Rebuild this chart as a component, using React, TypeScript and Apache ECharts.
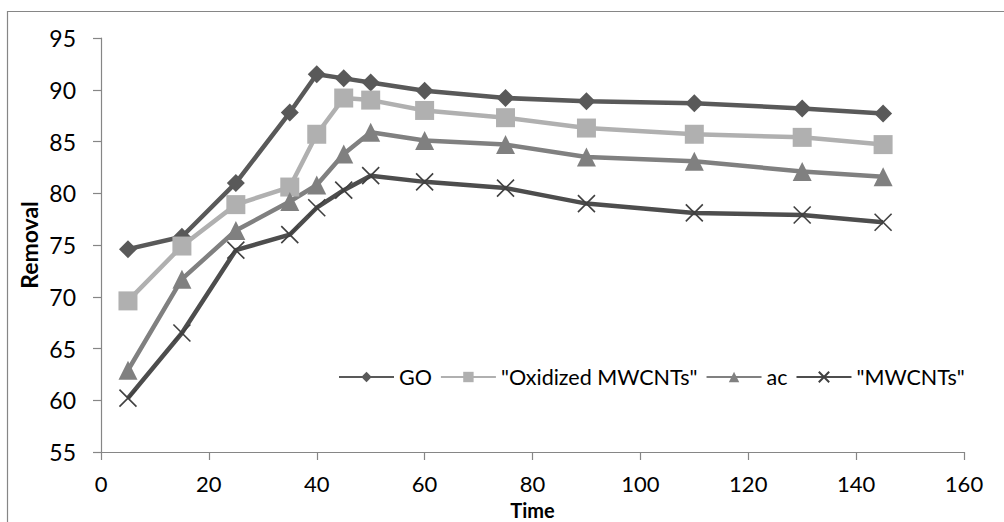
import React, { useEffect, useRef } from "react";
import * as echarts from "echarts";

const times = [5, 15, 25, 35, 40, 45, 50, 60, 75, 90, 110, 130, 145];
const goValues = [74.6, 75.8, 81.0, 87.8, 91.5, 91.1, 90.7, 89.9, 89.2, 88.9, 88.7, 88.2, 87.7];
const oxidizedValues = [69.6, 74.9, 78.9, 80.6, 85.7, 89.2, 89.0, 88.0, 87.3, 86.3, 85.7, 85.4, 84.7];
const acValues = [62.9, 71.7, 76.4, 79.2, 80.8, 83.8, 85.9, 85.1, 84.7, 83.5, 83.1, 82.1, 81.6];
const mwcntValues = [60.2, 66.5, 74.5, 76.0, 78.6, 80.3, 81.7, 81.1, 80.5, 79.0, 78.1, 77.9, 77.2];

const seriesNames = ["GO", '"Oxidized MWCNTs"', "ac", '"MWCNTs"'];
const xTicks = { min: 0, max: 160, interval: 20 };
const yTicks = { min: 55, max: 95, interval: 5 };

const FONT = "Lato, 'Open Sans', sans-serif";
const AXIS_COLOR = "#868686";

function pairs(values: number[]) {
  return times.map((t, i) => [t, values[i]]);
}

export default function App() {
  const ref = useRef<HTMLDivElement>(null);
  useEffect(() => {
    if (!ref.current) return;
    const chart = echarts.init(ref.current, null, { renderer: "svg" });
    const mk = (name: string, values: number[], color: string, symbol: string, size: number) => ({
      name,
      type: "line",
      data: pairs(values),
      symbol,
      symbolSize: size,
      lineStyle: { color, width: 4.5 },
      itemStyle: { color },
    });
    chart.setOption({
      animation: false,
      textStyle: { fontFamily: FONT },
      graphic: [
        {
          type: "rect",
          shape: { x: 7.5, y: 11.5, width: 1200, height: 700 },
          style: { fill: "none", stroke: AXIS_COLOR, lineWidth: 1.2 },
          silent: true,
        },
      ],
      grid: {
        left: 101,
        right: 40,
        top: 38,
        bottom: 70,
        containLabel: false,
        outerBoundsMode: "none",
      },
      legend: {
        left: 333,
        top: 361,
        itemWidth: 55,
        itemHeight: 13,
        itemGap: 8,
        textStyle: { fontFamily: FONT, fontSize: 21.5, color: "#000" },
        data: seriesNames,
      },
      xAxis: {
        type: "value",
        min: xTicks.min,
        max: xTicks.max,
        interval: xTicks.interval,
        name: "Time",
        nameLocation: "middle",
        nameGap: 49,
        nameMoveOverlap: false,
        nameTextStyle: {
          fontFamily: FONT,
          fontSize: 20,
          lineHeight: 17,
          fontWeight: "bold",
          color: "#000",
        },
        axisLine: { lineStyle: { color: AXIS_COLOR, width: 1.2 } },
        axisTick: { show: true, length: 8, lineStyle: { color: AXIS_COLOR, width: 1.2 } },
        axisLabel: { fontFamily: FONT, fontSize: 22, lineHeight: 18, color: "#000", margin: 22 },
        splitLine: { show: false },
      },
      yAxis: {
        type: "value",
        min: yTicks.min,
        max: yTicks.max,
        interval: yTicks.interval,
        name: "Removal",
        nameLocation: "middle",
        nameGap: 61,
        nameMoveOverlap: false,
        nameRotate: 90,
        nameTextStyle: { fontFamily: FONT, fontSize: 23, fontWeight: "bold", color: "#000" },
        axisLine: { show: true, lineStyle: { color: AXIS_COLOR, width: 1.2 } },
        axisTick: { show: true, length: 8, lineStyle: { color: AXIS_COLOR, width: 1.2 } },
        axisLabel: { fontFamily: FONT, fontSize: 23, color: "#000", margin: 25 },
        splitLine: { show: false },
      },
      series: [
        mk(seriesNames[0], goValues, "#595959", "diamond", 18),
        mk(seriesNames[1], oxidizedValues, "#b0b0b0", "rect", 19),
        mk(seriesNames[2], acValues, "#808080", "triangle", 19),
        {
          ...mk(seriesNames[3], mwcntValues, "#4d4d4d", "path://M0,0L10,10M10,0L0,10", 17),
          itemStyle: { color: "none", borderColor: "#404040", borderWidth: 1.6 },
          lineStyle: { color: "#4d4d4d", width: 4.5 },
        },
      ],
    });
    return () => chart.dispose();
  }, []);
  return <div ref={ref} style={{ width: 1004, height: 522, position: "absolute", left: 0, top: 0 }} />;
}
